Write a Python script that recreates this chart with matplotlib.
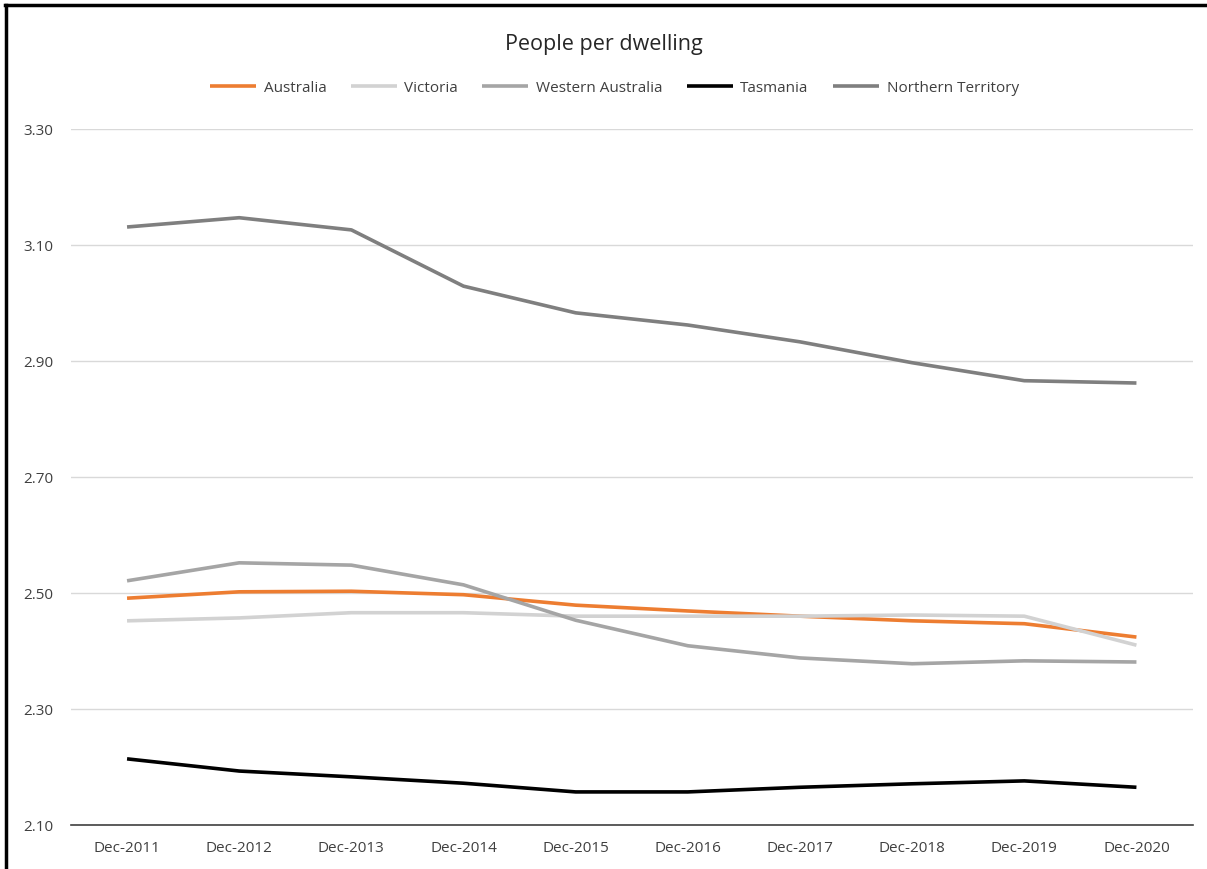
import matplotlib.pyplot as plt
from matplotlib.lines import Line2D

plt.rcParams['font.family'] = ['Open Sans', 'DejaVu Sans']

dates = ["Dec-2011", "Dec-2012", "Dec-2013", "Dec-2014", "Dec-2015",
         "Dec-2016", "Dec-2017", "Dec-2018", "Dec-2019", "Dec-2020"]

australia = [2.491, 2.502, 2.503, 2.497, 2.479, 2.469, 2.460, 2.452, 2.447, 2.424]
victoria = [2.452, 2.457, 2.466, 2.466, 2.460, 2.460, 2.460, 2.462, 2.460, 2.410]
western_australia = [2.521, 2.552, 2.548, 2.514, 2.453, 2.409, 2.388, 2.378, 2.383, 2.381]
tasmania = [2.214, 2.193, 2.183, 2.172, 2.157, 2.157, 2.165, 2.171, 2.176, 2.165]
northern_territory = [3.131, 3.147, 3.126, 3.029, 2.983, 2.962, 2.933, 2.897, 2.866, 2.862]

series = [
    ("Australia", australia, "#ED7D31"),
    ("Victoria", victoria, "#D2D2D2"),
    ("Western Australia", western_australia, "#A5A5A5"),
    ("Tasmania", tasmania, "#000000"),
    ("Northern Territory", northern_territory, "#7F7F7F"),
]


def draw_graph():
    fig = plt.figure(figsize=(12.07, 8.70), dpi=100)
    ax = fig.add_axes([0.0588, 0.0506, 0.9292, 0.8000])

    x = list(range(len(dates)))
    for name, vals, col in series:
        ax.plot(x, vals, color=col, linewidth=2.6, label=name,
                solid_capstyle='butt', solid_joinstyle='round')

    ax.set_xlim(-0.5, 9.5)
    ax.set_ylim(2.10, 3.30)
    ax.set_yticks([2.10, 2.30, 2.50, 2.70, 2.90, 3.10, 3.30])
    ax.set_yticklabels([f"{v:.2f}" for v in ax.get_yticks()])
    ax.set_xticks(x)
    ax.set_xticklabels(dates)
    ax.tick_params(length=0, labelsize=11, colors="#404040")
    ax.tick_params(axis='x', pad=11)
    ax.tick_params(axis='y', pad=13)
    ax.grid(axis='y', color="#D9D9D9", linewidth=1)
    ax.set_axisbelow(True)
    for s in ["top", "right", "left"]:
        ax.spines[s].set_visible(False)
    ax.spines["bottom"].set_color("#404040")
    ax.spines["bottom"].set_linewidth(1.2)

    fig.text(0.5, 0.949, "People per dwelling", ha='center', va='center',
             fontsize=15.5, color="#262626")
    fig.legend(loc='center', bbox_to_anchor=(0.509, 0.898), ncol=5,
               frameon=False, fontsize=11, handlelength=3.0,
               columnspacing=1.6, handletextpad=0.5, labelcolor="#404040")

    # ramka na lewej i gornej krawedzi
    fig.lines.append(Line2D([0.005, 0.005], [0, 0.993], transform=fig.transFigure,
                            color="black", linewidth=2.5))
    fig.lines.append(Line2D([0.004, 1], [0.993, 0.993], transform=fig.transFigure,
                            color="black", linewidth=2.5))

    fig.savefig("out.png", dpi=100)


if __name__ == "__main__":
    draw_graph()
